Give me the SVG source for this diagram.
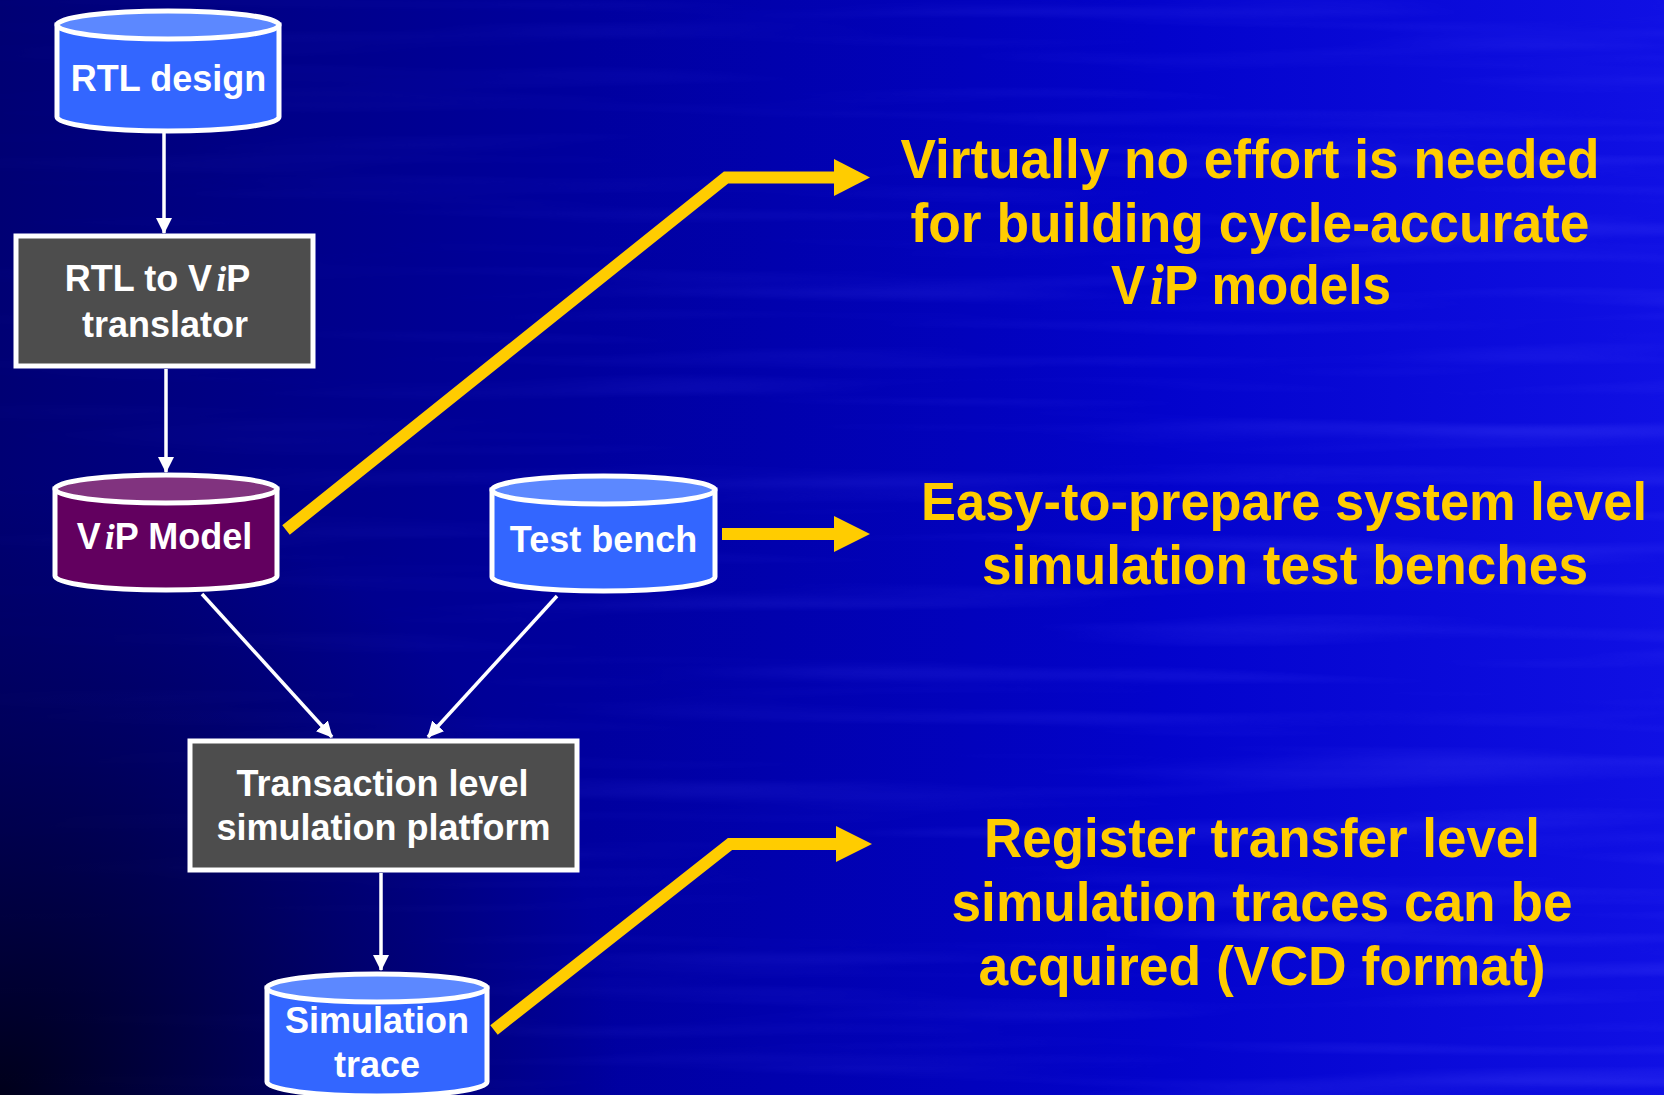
<svg xmlns="http://www.w3.org/2000/svg" width="1664" height="1095" viewBox="0 0 1664 1095">
  <defs>
    <linearGradient id="bgGrad" x1="0" y1="0" x2="1" y2="0">
      <stop offset="0" stop-color="#000074"/>
      <stop offset="0.35" stop-color="#00009e"/>
      <stop offset="0.7" stop-color="#0303cc"/>
      <stop offset="1" stop-color="#1010e4"/>
    </linearGradient>
    <radialGradient id="cornerShade" cx="0" cy="1095" r="620" gradientUnits="userSpaceOnUse">
      <stop offset="0" stop-color="#000010" stop-opacity="0.9"/>
      <stop offset="0.6" stop-color="#000030" stop-opacity="0.35"/>
      <stop offset="1" stop-color="#000040" stop-opacity="0"/>
    </radialGradient>
    <linearGradient id="streakFade" x1="0" y1="0" x2="1" y2="0">
      <stop offset="0" stop-color="#fff" stop-opacity="0.1"/>
      <stop offset="0.5" stop-color="#fff" stop-opacity="0.5"/>
      <stop offset="1" stop-color="#fff" stop-opacity="1"/>
    </linearGradient>
    <mask id="streakMask">
      <rect width="1664" height="1095" fill="url(#streakFade)"/>
    </mask>
    <!-- horizontal brushed streaks in the backdrop -->
    <filter id="streaks" x="0" y="0" width="100%" height="100%">
      <feTurbulence type="fractalNoise" baseFrequency="0.0018 0.045" numOctaves="2" seed="7"/>
      <feColorMatrix type="matrix" values="0 0 0 0 0.08  0 0 0 0 0.08  0 0 0 0 1  1.8 0 0 0 -0.85"/>
    </filter>
    <marker id="wArrow" markerUnits="userSpaceOnUse" markerWidth="16" markerHeight="16" viewBox="0 0 16 16" refX="15" refY="8" orient="auto">
      <path d="M0,0 L16,8 L0,16 Z" fill="#ffffff"/>
    </marker>
    <style>
      .node-text { font-family: "Liberation Sans", Arial, Helvetica, sans-serif; font-weight: bold; font-size: 36px; fill: #ffffff; text-anchor: middle; }
      .logo-i { font-family: "Liberation Serif", "Times New Roman", serif; font-style: italic; font-weight: bold; }
      .note { font-family: "Liberation Sans", Arial, Helvetica, sans-serif; font-weight: bold; font-size: 56px; fill: #ffcc00; text-anchor: middle; }
      .note.wide { font-size: 53px; }
      .edge { stroke: #ffffff; stroke-width: 3.5; fill: none; marker-end: url(#wArrow); }
      .pointer { stroke: #ffcc00; stroke-width: 12; fill: none; stroke-linejoin: miter; }
      .pointer-head { fill: #ffcc00; }
      .box { fill: #4d4d4d; stroke: #ffffff; stroke-width: 5; }
      .cyl-body { stroke: #ffffff; stroke-width: 5; }
      .cyl-top { stroke: #ffffff; stroke-width: 5; }
      .blue .cyl-body { fill: #3366ff; }
      .blue .cyl-top { fill: #5c88ff; }
      .purple .cyl-body { fill: #62005f; }
      .purple .cyl-top { fill: #81337f; }
    </style>
  </defs>

  <!-- backdrop -->
  <rect width="1664" height="1095" fill="url(#bgGrad)"/>
  <rect width="1664" height="1095" filter="url(#streaks)" mask="url(#streakMask)" opacity="0.4"/>
  <rect width="1664" height="1095" fill="url(#cornerShade)"/>

  <!-- connectors -->
  <g id="connectors">
    <path class="edge" d="M164,133 L164,233"/>
    <path class="edge" d="M166,369 L166,472"/>
    <path class="edge" d="M202,594 L332,737"/>
    <path class="edge" d="M557,596 L428,737"/>
    <path class="edge" d="M381,873 L381,970"/>

    <path class="pointer" d="M286,530 L726,177.5 L836,177.5"/>
    <polygon class="pointer-head" points="834,159 870,177.5 834,196"/>
    <path class="pointer" d="M722,534 L836,534"/>
    <polygon class="pointer-head" points="834,516 870,534 834,552"/>
    <path class="pointer" d="M494,1030 L730,844 L838,844"/>
    <polygon class="pointer-head" points="836,826 872,844 836,862"/>
  </g>

  <!-- RTL design store -->
  <g id="rtl-design" class="blue">
    <path class="cyl-body" d="M57,25 V117 A111,14 0 0 0 279,117 V25 Z"/>
    <ellipse class="cyl-top" cx="168" cy="25" rx="111" ry="14"/>
    <text class="node-text" x="168.5" y="91">RTL design</text>
  </g>

  <!-- translator step -->
  <g id="translator">
    <rect class="box" x="16" y="236" width="297" height="130"/>
    <text class="node-text" x="157.5" y="291">RTL to V<tspan class="logo-i" dx="4">i</tspan>P</text>
    <text class="node-text" x="165" y="337">translator</text>
  </g>

  <!-- ViP model store -->
  <g id="vip-model" class="purple">
    <path class="cyl-body" d="M55,489 V576 A111,14 0 0 0 277,576 V489 Z"/>
    <ellipse class="cyl-top" cx="166" cy="489" rx="111" ry="14"/>
    <text class="node-text" x="164.5" y="549">V<tspan class="logo-i" dx="4">i</tspan>P Model</text>
  </g>

  <!-- test bench store -->
  <g id="test-bench" class="blue">
    <path class="cyl-body" d="M492,490 V577 A111.5,14 0 0 0 715,577 V490 Z"/>
    <ellipse class="cyl-top" cx="603.5" cy="490" rx="111.5" ry="14"/>
    <text class="node-text" x="603.5" y="552">Test bench</text>
  </g>

  <!-- simulation platform -->
  <g id="tl-platform">
    <rect class="box" x="190" y="741" width="387" height="129"/>
    <text class="node-text" x="382.5" y="796">Transaction level</text>
    <text class="node-text" x="383.5" y="840">simulation platform</text>
  </g>

  <!-- simulation trace store -->
  <g id="sim-trace" class="blue">
    <path class="cyl-body" d="M267,988 V1082 A110,14 0 0 0 487,1082 V988 Z"/>
    <ellipse class="cyl-top" cx="377" cy="988" rx="110" ry="14"/>
    <text class="node-text" x="377" y="1033">Simulation</text>
    <text class="node-text" x="377" y="1077">trace</text>
  </g>

  <!-- notes -->
  <g id="note-models">
    <text class="note" x="1250" y="178" textLength="699" lengthAdjust="spacingAndGlyphs">Virtually no effort is needed</text>
    <text class="note" x="1250" y="242" textLength="679" lengthAdjust="spacingAndGlyphs">for building cycle-accurate</text>
    <text class="note" x="1251" y="304" textLength="280" lengthAdjust="spacingAndGlyphs">V<tspan class="logo-i" dx="5">i</tspan>P models</text>
  </g>
  <g id="note-benches">
    <text class="note wide" x="1284" y="520" textLength="726" lengthAdjust="spacingAndGlyphs">Easy-to-prepare system level</text>
    <text class="note" x="1285" y="584" textLength="606" lengthAdjust="spacingAndGlyphs">simulation test benches</text>
  </g>
  <g id="note-traces">
    <text class="note" x="1262" y="857" textLength="556" lengthAdjust="spacingAndGlyphs">Register transfer level</text>
    <text class="note" x="1262" y="921" textLength="621" lengthAdjust="spacingAndGlyphs">simulation traces can be</text>
    <text class="note" x="1262" y="985" textLength="567" lengthAdjust="spacingAndGlyphs">acquired (VCD format)</text>
  </g>
</svg>
